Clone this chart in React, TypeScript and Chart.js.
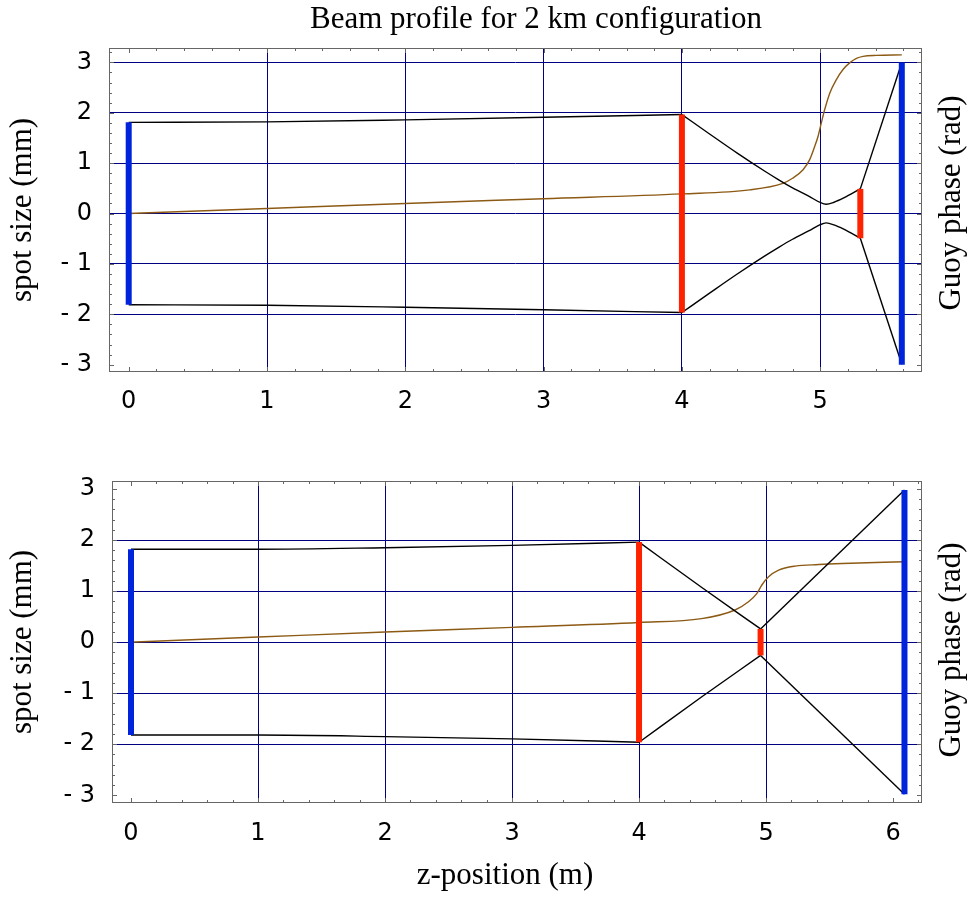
import React, { useEffect, useRef } from 'react';
import { Chart, registerables } from 'chart.js';

Chart.register(...registerables);

// ---------- text ----------
const MAIN_TITLE = 'Beam profile for 2 km configuration';
const Y_TITLE = 'spot size (mm)';
const Y2_TITLE = 'Guoy phase (rad)';
const X_TITLE = 'z-position (m)';

// ---------- tick labels ----------
const TOP_X_TICKS = [0, 1, 2, 3, 4, 5];
const BOT_X_TICKS = [0, 1, 2, 3, 4, 5, 6];
const Y_TICKS = [-3, -2, -1, 0, 1, 2, 3];
const TOP_GRID_X = [1, 2, 3, 4, 5];
const TOP_GRID_Y = [-2, -1, 0, 1, 2, 3];
const BOT_GRID_X = [1, 2, 3, 4, 5];
const BOT_GRID_Y = [-2, -1, 0, 1, 2];

// ---------- top panel data ----------
const TOP_Z_A = [0, 1, 2, 3, 4];
const TOP_UP_A = [1.81, 1.82, 1.86, 1.91, 1.965];
const TOP_LO_A = [-1.81, -1.82, -1.86, -1.91, -1.965];
const TOP_Z_B = [4.0, 4.2, 4.4, 4.6, 4.7, 4.8, 4.92, 5.0, 5.043, 5.1, 5.17, 5.29];
const TOP_UP_B = [1.965, 1.58, 1.2, 0.84, 0.67, 0.51, 0.34, 0.22, 0.186, 0.225, 0.31, 0.49];
const TOP_LO_B = [-1.965, -1.58, -1.2, -0.84, -0.67, -0.51, -0.34, -0.22, -0.186, -0.225, -0.31, -0.49];
const TOP_Z_C = [5.29, 5.59];
const TOP_UP_C = [0.49, 3.0];
const TOP_LO_C = [-0.49, -2.99];
const TOP_PHASE_Z = [0, 1, 2, 3, 4, 4.49, 4.73, 4.8, 4.876, 4.924, 4.96, 4.984, 5.008, 5.032, 5.069, 5.117, 5.165, 5.213, 5.262, 5.31, 5.406, 5.59];
const TOP_PHASE = [0, 0.1, 0.2, 0.295, 0.39, 0.47, 0.6, 0.7, 0.87, 1.07, 1.33, 1.53, 1.8, 2.06, 2.39, 2.66, 2.86, 2.99, 3.08, 3.12, 3.14, 3.15];
const TOP_LENS_Z = [4.0, 5.29];
const TOP_LENS_HALF = [1.965, 0.49];
const TOP_MIRROR_Z = [0, 5.59];
const TOP_MIRROR_HALF = [1.81, 3.0];

// ---------- bottom panel data ----------
const BOT_Z_A = [0, 1, 2, 3, 4];
const BOT_UP_A = [1.82, 1.82, 1.85, 1.895, 1.96];
const BOT_LO_A = [-1.82, -1.82, -1.85, -1.895, -1.96];
const BOT_Z_B = [4.0, 4.5, 4.957];
const BOT_UP_B = [1.96, 1.06, 0.26];
const BOT_LO_B = [-1.96, -1.06, -0.26];
const BOT_Z_C = [4.957, 6.09];
const BOT_UP_C = [0.26, 2.98];
const BOT_LO_C = [-0.26, -2.98];
const BOT_PHASE_Z = [0, 1, 2, 3, 4, 4.493, 4.756, 4.862, 4.927, 4.967, 5.02, 5.099, 5.23, 5.414, 5.6, 6.09];
const BOT_PHASE = [0, 0.1, 0.2, 0.29, 0.386, 0.46, 0.63, 0.79, 0.95, 1.12, 1.28, 1.41, 1.49, 1.52, 1.54, 1.575];
const BOT_LENS_Z = [4.0, 4.957];
const BOT_LENS_HALF = [1.96, 0.26];
const BOT_MIRROR_Z = [0, 6.09];
const BOT_MIRROR_HALF = [1.82, 2.98];

// ---------- style ----------
const NAVY = '#000080';
const FRAME = '#666666';
const BLUE = '#0024dc';
const RED = '#ff2200';
const BROWN = '#8c5a14';
const SERIF = '"Liberation Serif", "Times New Roman", serif';
const SANS = '"DejaVu Sans", sans-serif';

type Panel = {
  height: number;
  padTop: number;
  axisLeft: number;
  axisRight: number;
  xAxisHeight: number;
  xMin: number; xMax: number; yMin: number; yMax: number;
  xTicks: number[]; gridX: number[]; gridY: number[];
  xLabelPad: number;
  xTitle: string | null;
  mainTitle: string | null;
  rightTitleY: number;
  segments: { z: number[]; w: number[]; smooth: boolean }[];
  phaseZ: number[]; phase: number[];
  lensZ: number[]; lensHalf: number[];
  mirrorZ: number[]; mirrorHalf: number[];
};

const TOP: Panel = {
  height: 440, padTop: 48, axisLeft: 109, axisRight: 55, xAxisHeight: 68,
  xMin: -0.1425, xMax: 5.736, yMin: -3.145, yMax: 3.286,
  xTicks: TOP_X_TICKS, gridX: TOP_GRID_X, gridY: TOP_GRID_Y,
  xLabelPad: 15, xTitle: null, mainTitle: MAIN_TITLE, rightTitleY: 203,
  segments: [
    { z: TOP_Z_A, w: TOP_UP_A, smooth: true }, { z: TOP_Z_A, w: TOP_LO_A, smooth: true },
    { z: TOP_Z_B, w: TOP_UP_B, smooth: true }, { z: TOP_Z_B, w: TOP_LO_B, smooth: true },
    { z: TOP_Z_C, w: TOP_UP_C, smooth: false }, { z: TOP_Z_C, w: TOP_LO_C, smooth: false },
  ],
  phaseZ: TOP_PHASE_Z, phase: TOP_PHASE,
  lensZ: TOP_LENS_Z, lensHalf: TOP_LENS_HALF,
  mirrorZ: TOP_MIRROR_Z, mirrorHalf: TOP_MIRROR_HALF,
};

const BOTTOM: Panel = {
  height: 458, padTop: 41, axisLeft: 112, axisRight: 55, xAxisHeight: 95,
  xMin: -0.1496, xMax: 6.228, yMin: -3.151, yMax: 3.157,
  xTicks: BOT_X_TICKS, gridX: BOT_GRID_X, gridY: BOT_GRID_Y,
  xLabelPad: 16.6, xTitle: X_TITLE, mainTitle: null, rightTitleY: 210,
  segments: [
    { z: BOT_Z_A, w: BOT_UP_A, smooth: true }, { z: BOT_Z_A, w: BOT_LO_A, smooth: true },
    { z: BOT_Z_B, w: BOT_UP_B, smooth: true }, { z: BOT_Z_B, w: BOT_LO_B, smooth: true },
    { z: BOT_Z_C, w: BOT_UP_C, smooth: false }, { z: BOT_Z_C, w: BOT_LO_C, smooth: false },
  ],
  phaseZ: BOT_PHASE_Z, phase: BOT_PHASE,
  lensZ: BOT_LENS_Z, lensHalf: BOT_LENS_HALF,
  mirrorZ: BOT_MIRROR_Z, mirrorHalf: BOT_MIRROR_HALF,
};

const fmt = (v: number) => (v < 0 ? '- ' + String(-v) : String(v));

function decorPlugin(p: Panel) {
  return {
    id: 'decor',
    afterDraw(chart: any) {
      const { ctx, chartArea: a } = chart;
      const xs = chart.scales.x;
      const ys = chart.scales.y;
      ctx.save();
      // frame
      ctx.strokeStyle = FRAME;
      ctx.lineWidth = 1;
      ctx.strokeRect(Math.round(a.left) + 0.5, Math.round(a.top) + 0.5,
        Math.round(a.right - a.left) - 1, Math.round(a.bottom - a.top) - 1);
      // inward tick marks, minor every 0.2, major at integers
      ctx.beginPath();
      const step = 0.2;
      for (let i = Math.ceil(p.xMin / step); i * step <= p.xMax; i++) {
        const v = i * step;
        const major = i % 5 === 0;
        const len = major ? 5 : 3;
        const px = Math.round(xs.getPixelForValue(v)) + 0.5;
        ctx.moveTo(px, a.bottom); ctx.lineTo(px, a.bottom - len);
        ctx.moveTo(px, a.top); ctx.lineTo(px, a.top + len);
      }
      for (let i = Math.ceil(p.yMin / step); i * step <= p.yMax; i++) {
        const v = i * step;
        const major = i % 5 === 0;
        const len = major ? 5 : 3;
        const py = Math.round(ys.getPixelForValue(v)) + 0.5;
        ctx.moveTo(a.left, py); ctx.lineTo(a.left + len, py);
        ctx.moveTo(a.right, py); ctx.lineTo(a.right - len, py);
      }
      ctx.stroke();
      ctx.fillStyle = '#000';
      ctx.font = `31px ${SERIF}`;
      ctx.textAlign = 'center';
      if (p.xTitle) {
        ctx.textBaseline = 'alphabetic';
        ctx.fillText(p.xTitle, 505, p.height - 14);
      }
      if (p.mainTitle) {
        ctx.textBaseline = 'alphabetic';
        ctx.fillText(p.mainTitle, 536, 28);
      }
      ctx.textBaseline = 'middle';
      ctx.translate(952, p.rightTitleY);
      ctx.rotate(-Math.PI / 2);
      ctx.fillText(Y2_TITLE, 0, 0);
      ctx.restore();
    },
  };
}

function buildConfig(p: Panel): any {
  const datasets: any[] = [];
  p.mirrorZ.forEach((z, i) => {
    datasets.push({
      data: [{ x: z, y: -p.mirrorHalf[i] }, { x: z, y: p.mirrorHalf[i] }],
      borderColor: BLUE, borderWidth: 6, pointRadius: 0, borderCapStyle: 'butt', yAxisID: 'y',
    });
  });
  p.lensZ.forEach((z, i) => {
    datasets.push({
      data: [{ x: z, y: -p.lensHalf[i] }, { x: z, y: p.lensHalf[i] }],
      borderColor: RED, borderWidth: 6, pointRadius: 0, borderCapStyle: 'butt', yAxisID: 'y',
    });
  });
  p.segments.forEach((s) => {
    datasets.push({
      data: s.z.map((z, i) => ({ x: z, y: s.w[i] })),
      borderColor: '#000', borderWidth: 1.4, pointRadius: 0,
      cubicInterpolationMode: s.smooth ? 'monotone' : 'default', tension: 0, yAxisID: 'y',
    });
  });
  datasets.push({
    data: p.phaseZ.map((z, i) => ({ x: z, y: p.phase[i] })),
    borderColor: BROWN, borderWidth: 1.4, pointRadius: 0,
    cubicInterpolationMode: 'monotone', yAxisID: 'y2',
  });

  return {
    type: 'line',
    data: { datasets },
    options: {
      responsive: false,
      animation: false,
      events: [],
      layout: { padding: { top: p.padTop, left: 0, right: 0, bottom: 0 } },
      plugins: { legend: { display: false }, tooltip: { enabled: false }, title: { display: false } },
      scales: {
        x: {
          type: 'linear', position: 'bottom', min: p.xMin, max: p.xMax,
          afterBuildTicks: (s: any) => { s.ticks = p.xTicks.map((v) => ({ value: v })); },
          afterFit: (s: any) => { s.height = p.xAxisHeight; },
          grid: {
            color: (c: any) => (c.tick && p.gridX.includes(c.tick.value) ? NAVY : 'rgba(0,0,0,0)'),
            lineWidth: 1, drawTicks: false,
          },
          border: { display: false },
          ticks: {
            font: { family: SANS, size: 24 }, color: '#000', padding: p.xLabelPad,
            maxRotation: 0, autoSkip: false, callback: (v: any) => fmt(Number(v)),
          },
        },
        y: {
          type: 'linear', position: 'left', min: p.yMin, max: p.yMax,
          afterBuildTicks: (s: any) => { s.ticks = Y_TICKS.map((v) => ({ value: v })); },
          afterFit: (s: any) => { s.width = p.axisLeft; },
          grid: {
            color: (c: any) => (c.tick && p.gridY.includes(c.tick.value) ? NAVY : 'rgba(0,0,0,0)'),
            lineWidth: 1, drawTicks: false,
          },
          border: { display: false },
          ticks: {
            font: { family: SANS, size: 24 }, color: '#000', padding: 17,
            autoSkip: false, callback: (v: any) => fmt(Number(v)),
          },
          title: {
            display: true, text: Y_TITLE, color: '#000',
            font: { family: SERIF, size: 31 }, padding: { top: 4, bottom: 0 },
          },
        },
        y2: {
          type: 'linear', position: 'right', min: p.yMin, max: p.yMax,
          afterFit: (s: any) => { s.width = p.axisRight; },
          grid: { display: false },
          border: { display: false },
          ticks: { display: false },
        },
      },
    },
    plugins: [decorPlugin(p)],
  };
}

function Panel({ p }: { p: Panel }) {
  const ref = useRef<HTMLCanvasElement | null>(null);
  useEffect(() => {
    if (!ref.current) return;
    const chart = new Chart(ref.current, buildConfig(p));
    return () => chart.destroy();
  }, [p]);
  return (
    <canvas ref={ref} width={977} height={p.height}
      style={{ display: 'block', width: 977, height: p.height }} />
  );
}

export default function App() {
  return (
    <div style={{ position: 'absolute', left: 0, top: 0, width: 977, height: 898, background: '#fff' }}>
      <Panel p={TOP} />
      <Panel p={BOTTOM} />
    </div>
  );
}
